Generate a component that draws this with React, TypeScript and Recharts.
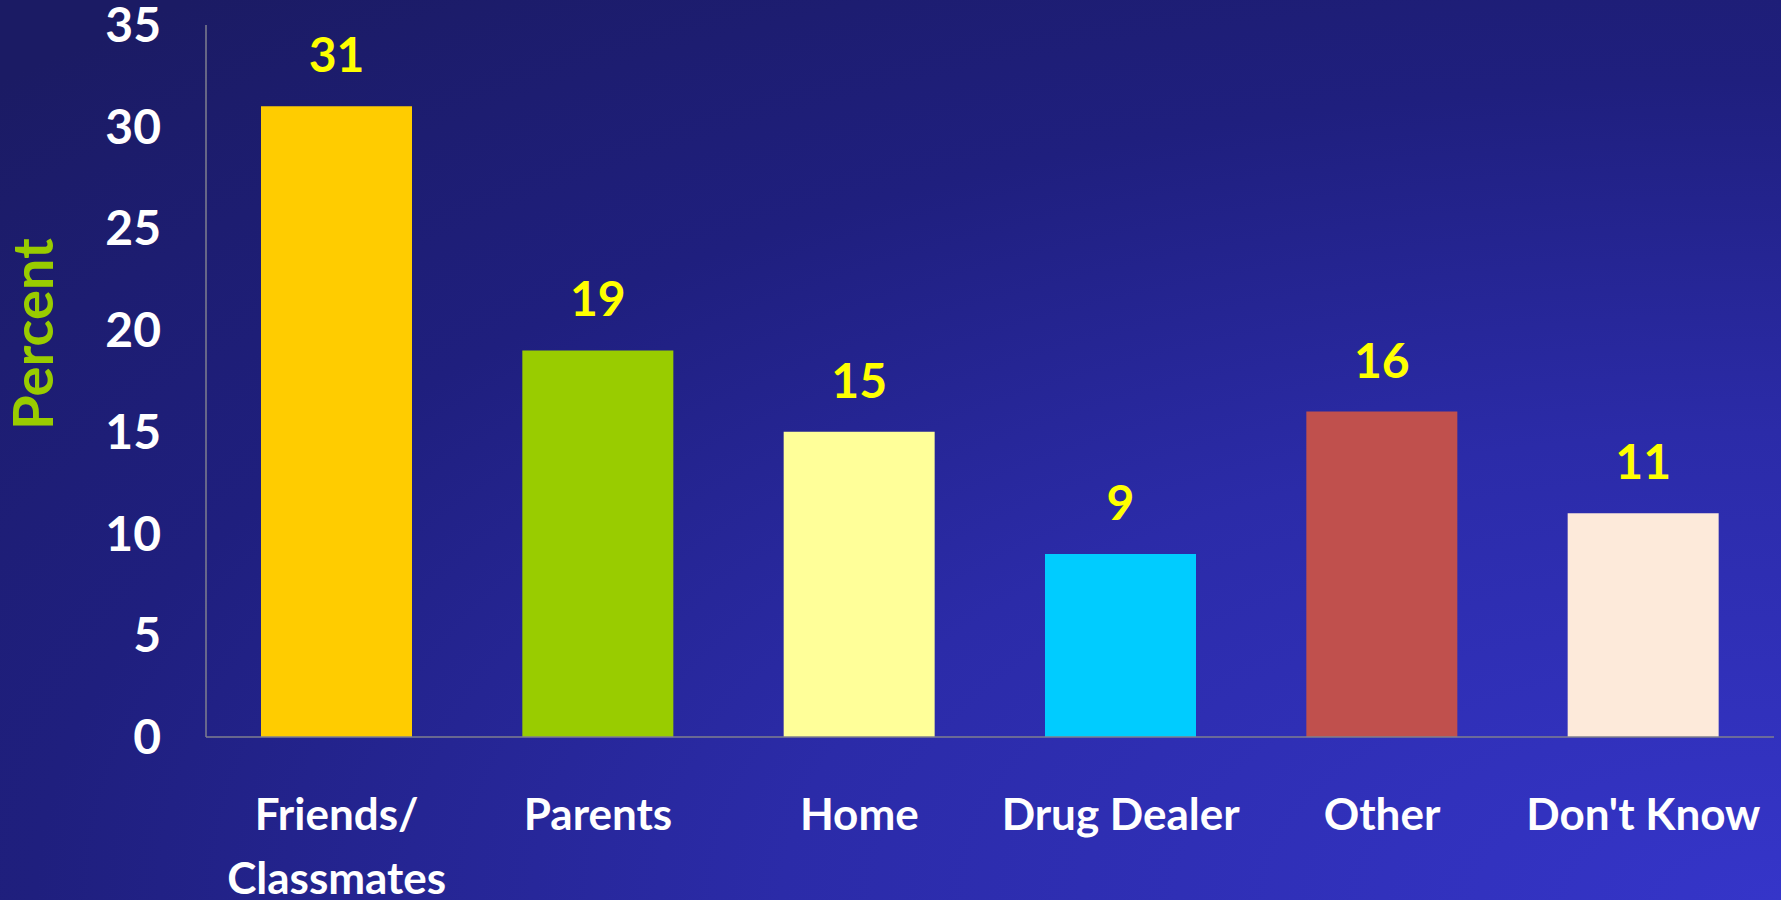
import React from "react";
import { BarChart, Bar, XAxis, YAxis, Cell, LabelList, Label } from "recharts";

const categories = ["Friends/\nClassmates", "Parents", "Home", "Drug Dealer", "Other", "Don't Know"];
const percents = [31, 19, 15, 9, 16, 11];
const barColors = ["#FFCC00", "#99CC00", "#FFFF99", "#00CCFF", "#C0504D", "#FDEADA"];
const yTicks = [0, 5, 10, 15, 20, 25, 30, 35];

const data = categories.map((name, i) => ({ name, value: percents[i] }));

const FONT = "Lato, 'Open Sans', sans-serif";

function CategoryTick(props: any) {
  const { x, y, payload } = props;
  const lines = String(payload.value).split("\n");
  return (
    <text x={x} y={y + 93} textAnchor="middle" fill="#FFFFFF" fontFamily={FONT} fontWeight={700} fontSize={44}>
      {lines.map((line, i) => (
        <tspan key={i} x={x} dy={i === 0 ? 0 : 64}>
          {line}
        </tspan>
      ))}
    </text>
  );
}

export default function App() {
  return (
    <div
      style={{
        position: "absolute",
        left: 0,
        top: 0,
        width: 1781,
        height: 900,
        overflow: "hidden",
        background:
          "radial-gradient(ellipse 140% 130% at 100% 100%, #3535C9 0%, #2B2BA8 40%, #1F1F7E 70%, #1B1B64 100%)",
      }}
    >
      <BarChart
        width={1781}
        height={900}
        data={data}
        margin={{ top: 25, right: 7, bottom: 0, left: 0 }}
        barCategoryGap={55}
      >
        <XAxis
          dataKey="name"
          height={163}
          interval={0}
          tickLine={false}
          tickSize={0}
          tickMargin={0}
          axisLine={{ stroke: "#7F7F8F", strokeWidth: 1.5 }}
          tick={<CategoryTick />}
        />
        <YAxis
          width={206}
          domain={[0, 35]}
          ticks={yTicks}
          interval={0}
          tickLine={false}
          tickSize={0}
          tickMargin={45}
          axisLine={{ stroke: "#7F7F8F", strokeWidth: 1.5 }}
          tick={{ fill: "#FFFFFF", fontFamily: FONT, fontWeight: 700, fontSize: 48 }}
        >
          <Label
            content={() => (
              <text
                x={53}
                y={334}
                transform="rotate(-90, 53, 334)"
                textAnchor="middle"
                fill="#99CC00"
                fontFamily={FONT}
                fontWeight={700}
                fontSize={56}
              >
                Percent
              </text>
            )}
          />
        </YAxis>
        <Bar dataKey="value" isAnimationActive={false}>
          {data.map((d, i) => (
            <Cell key={d.name} fill={barColors[i]} />
          ))}
          <LabelList
            dataKey="value"
            position="top"
            offset={34}
            fill="#FFFF00"
            fontFamily={FONT}
            fontWeight={700}
            fontSize={48}
          />
        </Bar>
      </BarChart>
    </div>
  );
}
